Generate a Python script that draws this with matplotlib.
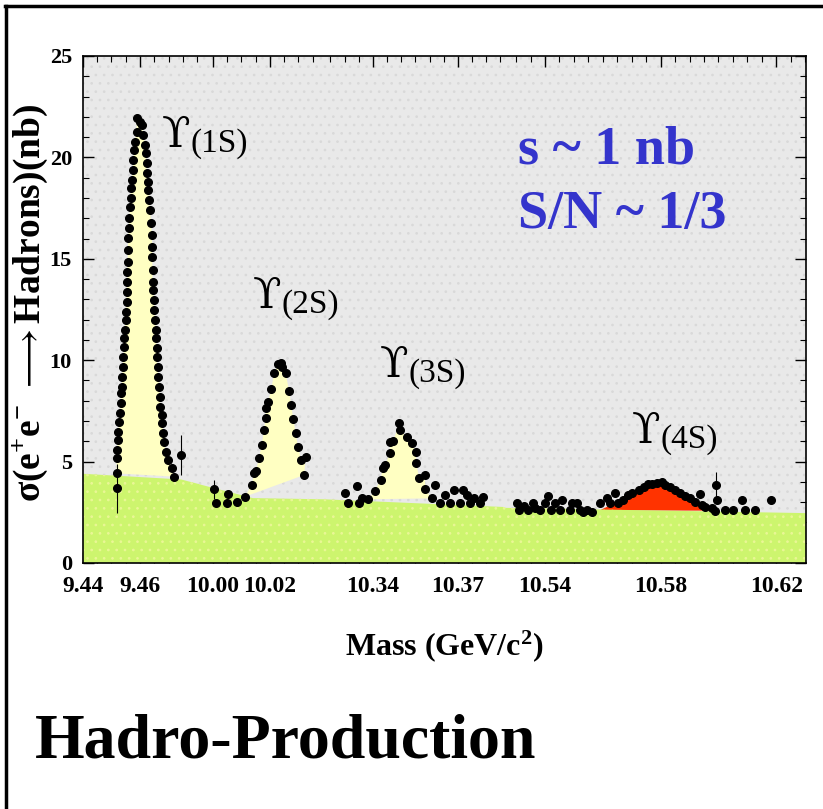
import numpy as np
import matplotlib
matplotlib.use("Agg")
import matplotlib.pyplot as plt
from matplotlib.lines import Line2D
from matplotlib.patches import Rectangle
from matplotlib.ticker import MultipleLocator

plt.rcParams['font.family'] = ['Liberation Serif', 'DejaVu Serif', 'DejaVu Sans']
plt.rcParams['mathtext.fontset'] = 'custom'
plt.rcParams['mathtext.rm'] = 'Liberation Serif:bold'
plt.rcParams['mathtext.bf'] = 'Liberation Serif:bold'
plt.rcParams['mathtext.it'] = 'Liberation Serif:italic:bold'
plt.rcParams['hatch.linewidth'] = 0.7

# ---------------- data (mass in GeV/c^2, cross-section in nb) ----------------
# Upsilon(1S) scan, ordered along the curve (rising edge then falling edge)
m_1s = [9.4518, 9.4518, 9.4520, 9.4522, 9.4524, 9.4527, 9.4530, 9.4533, 9.4533, 9.4536,
        9.4538, 9.4539, 9.4542, 9.4545, 9.4545, 9.4547, 9.4550, 9.4551, 9.4553, 9.4553,
        9.4556, 9.4556, 9.4557, 9.4557, 9.4559, 9.4561, 9.4563, 9.4565, 9.4567, 9.4568,
        9.4571, 9.4574, 9.4577, 9.4580, 9.4582, 9.4588, 9.4588,
        9.4600, 9.4606, 9.4612, 9.4618, 9.4620, 9.4623, 9.4623, 9.4627, 9.4629, 9.4632,
        9.4635, 9.4639, 9.4641, 9.4643, 9.4643, 9.4644, 9.4644, 9.4647, 9.4649, 9.4650,
        9.4653, 9.4655, 9.4656, 9.4658, 9.4658, 9.4662, 9.4664, 9.4667, 9.4670, 9.4671,
        9.4676, 9.4678, 9.4682, 9.4685, 9.4690, 9.4697, 9.4711, 9.4719]
s_1s = [4.42, 5.16, 5.57, 6.07, 6.48, 6.97, 7.38, 7.87, 8.37, 8.69,
        9.19, 9.68, 10.17, 10.67, 11.08, 11.49, 11.98, 12.39, 12.89, 13.38,
        13.87, 14.37, 14.86, 15.43, 16.01, 16.50, 17.00, 17.57, 17.98, 18.47,
        18.89, 19.38, 19.87, 20.36, 20.78, 21.27, 21.93,
        21.76, 21.60, 21.10, 20.61, 20.20, 19.71, 19.21, 18.80, 18.39, 17.90,
        17.41, 16.75, 16.17, 15.60, 15.10, 14.45, 13.87, 13.46, 12.97, 12.48,
        11.98, 11.49, 11.08, 10.59, 10.17, 9.68, 9.19, 8.69, 8.20, 7.71,
        7.30, 6.89, 6.39, 5.98, 5.49, 5.08, 4.67, 4.26]

# Upsilon(2S) scan
m_2s = [10.0011, 10.0048, 10.0054, 10.0083, 10.0112, 10.0136, 10.0145, 10.0151, 10.0161, 10.0171,
        10.0179, 10.0185, 10.0185, 10.0194, 10.0204, 10.0215, 10.0229, 10.0239, 10.0243, 10.0255,
        10.0267, 10.0274, 10.0282, 10.0290, 10.0299, 10.0309, 10.0325, 10.0320]
s_2s = [2.94, 2.94, 3.40, 2.99, 3.27, 3.85, 4.42, 4.54, 5.16, 5.82,
        6.56, 7.17, 7.63, 7.96, 8.56, 9.35, 9.81, 9.88, 9.68, 9.35,
        8.50, 7.79, 7.08, 6.39, 5.70, 5.08, 5.24, 4.34]

# Upsilon(3S) scan
m_3s = [10.3301, 10.3313, 10.3342, 10.3352, 10.3360, 10.3384, 10.3407, 10.3427, 10.3434, 10.3442,
        10.3460, 10.3460, 10.3472, 10.3493, 10.3495, 10.3521, 10.3537, 10.3552, 10.3552, 10.3564,
        10.3584, 10.3584, 10.3607, 10.3619, 10.3637, 10.3654, 10.3672, 10.3686, 10.3707, 10.3719,
        10.3731, 10.3742, 10.3757, 10.3778, 10.3789]
s_3s = [3.44, 2.94, 3.80, 2.97, 3.19, 3.14, 3.57, 4.09, 4.67, 4.83,
        5.41, 5.98, 6.03, 6.89, 6.56, 6.20, 5.90, 5.49, 4.91, 4.17,
        4.34, 3.63, 3.19, 3.85, 2.94, 3.35, 2.94, 3.60, 2.94, 3.60,
        3.35, 2.94, 3.19, 2.94, 3.27]

# Upsilon(4S) scan
m_4s = [10.5302, 10.5311, 10.5327, 10.5342, 10.5357, 10.5365, 10.5383, 10.5400, 10.5412, 10.5420,
        10.5435, 10.5452, 10.5458, 10.5487, 10.5492, 10.5510, 10.5521, 10.5530, 10.5546, 10.5561,
        10.5590, 10.5613, 10.5625, 10.5642, 10.5654, 10.5671, 10.5688, 10.5700, 10.5726, 10.5743,
        10.5758, 10.5769, 10.5786, 10.5804, 10.5815, 10.5833, 10.5850, 10.5867, 10.5884, 10.5902,
        10.5919, 10.5936, 10.5942, 10.5954, 10.5977, 10.5988, 10.5996, 10.6023, 10.6052, 10.6081,
        10.6092, 10.6127, 10.6181]
s_4s = [2.97, 2.61, 2.81, 2.61, 2.97, 2.70, 2.61, 2.94, 3.30, 2.61,
        2.97, 2.61, 3.11, 2.61, 2.94, 2.97, 2.61, 2.53, 2.61, 2.53,
        2.97, 3.19, 2.94, 3.44, 2.94, 3.11, 3.35, 3.44, 3.60, 3.76,
        3.90, 3.90, 3.96, 4.01, 3.85, 3.73, 3.60, 3.44, 3.30, 3.19,
        3.02, 3.40, 2.86, 2.78, 2.70, 2.58, 3.11, 2.61, 2.61, 3.11,
        2.61, 2.61, 3.11]

# points drawn with visible error bars
eb_m = [9.4518, 9.4744, 10.0005, 10.5992]
eb_s = [3.68, 5.33, 3.63, 3.85]
eb_e = [1.20, 1.00, 0.45, 0.65]

# 4S resonance fit (red area)
fit4s_m = [10.5590, 10.5648, 10.5706, 10.5752, 10.5798, 10.5844, 10.5890, 10.5936, 10.5983]
fit4s_s = [2.60, 3.00, 3.50, 3.76, 3.85, 3.68, 3.27, 2.86, 2.58]

# continuum background (green area)
bg_m = [9.44, 9.4744, 9.481, 9.9955, 10.0140, 10.0393, 10.3231, 10.3866, 10.5262, 10.6303]
bg_s = [4.40, 4.12, 3.88, 3.87, 3.20, 3.14, 3.14, 2.76, 2.72, 2.46]

tick_m = [9.44, 9.46, 10.00, 10.02, 10.34, 10.37, 10.54, 10.58, 10.62]
tick_lbl = ['9.44', '9.46', '10.00', '10.02', '10.34', '10.37', '10.54', '10.58', '10.62']

peak_lbl = ['(1S)', '(2S)', '(3S)', '(4S)']
peak_lbl_m = [9.4677, 10.0140, 10.3425, 10.5701]
peak_lbl_s = [20.5, 12.57, 9.17, 5.92]

# ---------------- broken mass axis ----------------
seg_mass = np.array([8.0, 9.44, 9.481, 9.9955, 10.0393, 10.3231, 10.3866, 10.5262, 10.6303, 12.0])
seg_pos = np.array([-4021.0, 83.0, 199.85, 200.17, 325.0, 325.1, 505.0, 505.1, 806.0, 4765.0])


def fwd(m):
    return np.interp(np.asarray(m, dtype=float), seg_mass, seg_pos)


def inv(p):
    return np.interp(np.asarray(p, dtype=float), seg_pos, seg_mass)


W, H = 823, 809
fig = plt.figure(figsize=(W / 100, H / 100), dpi=100)
fig.patch.set_facecolor('white')
ax = fig.add_axes([83 / W, 1 - 563 / H, 723 / W, 507 / H])
ax.set_xscale('function', functions=(fwd, inv))
ax.set_xlim(9.44, 10.6303)
ax.set_ylim(0, 25)

ax.set_facecolor('#e9e9e9')
ax.add_patch(Rectangle((0, 0), 1, 1, transform=ax.transAxes, facecolor='none',
                       edgecolor='#d9d9d9', hatch='..', lw=0, zorder=0.5))

yellow = '#ffffc2'
ax.fill(m_1s, s_1s, color=yellow, lw=0, zorder=1)
m2 = np.array(m_2s); s2 = np.array(s_2s)
sel2 = m2 >= 10.0110
ax.fill(m2[sel2], s2[sel2], color=yellow, lw=0, zorder=1)
m3 = np.array(m_3s); s3 = np.array(s_3s)
sel3 = (m3 >= 10.3384) & (m3 <= 10.3607)
ax.fill(m3[sel3], s3[sel3], color=yellow, lw=0, zorder=1)
ax.fill(fit4s_m, fit4s_s, color='#ff3300', lw=0, zorder=1)

ax.fill_between(bg_m, 0, bg_s, facecolor='#cdf56e', edgecolor='#eaf796',
                hatch='..', lw=0, zorder=2)

for mm, ss in [(m_1s, s_1s), (m_2s, s_2s), (m_3s, s_3s), (m_4s, s_4s)]:
    ax.plot(mm, ss, 'o', color='black', ms=5.5, zorder=4)
ax.errorbar(eb_m, eb_s, yerr=eb_e, fmt='o', color='black', ms=5.5,
            elinewidth=0.8, capsize=0, zorder=4)

# ticks
minor = []
for a, b in [(9.44, 9.48), (10.00, 10.035), (10.325, 10.385), (10.53, 10.63)]:
    minor += list(np.round(np.arange(a, b + 1e-6, 0.005), 4))
ax.set_xticks(tick_m)
ax.set_xticklabels(tick_lbl)
ax.set_xticks(minor, minor=True)
ax.set_yticks([0, 5, 10, 15, 20, 25])
ax.yaxis.set_minor_locator(MultipleLocator(1))
ax.tick_params(axis='both', which='both', direction='in', top=True, right=True)
ax.tick_params(which='major', length=8, width=1)
ax.tick_params(which='minor', length=4, width=0.8)
ax.tick_params(axis='x', which='major', pad=9, labelsize=17)
ax.tick_params(axis='y', which='major', pad=8, labelsize=16)
for lbl in ax.get_xticklabels() + ax.get_yticklabels():
    lbl.set_fontweight('bold')
for sp in ax.spines.values():
    sp.set_linewidth(1.2)
    sp.set_zorder(6)

ax.set_xlabel(r'Mass (GeV/c$^{2}$)', fontsize=23, fontweight='bold')
ax.xaxis.set_label_coords(0.5, -(628 - 563) / 507)
ax.set_ylabel(r'$\mathrm{\sigma(e^{+}e^{-}}\ \longrightarrow$Hadrons)(nb)',
              fontsize=27, fontweight='bold')
ax.yaxis.set_label_coords((50 - 83) / 723, 0.513)

# peak labels: upsilon glyph followed by the state name
for lab, lm, ls in zip(peak_lbl, peak_lbl_m, peak_lbl_s):
    t = ax.text(lm, ls, '\u03d2', fontsize=30, va='baseline', ha='left', zorder=5,
                family=['DejaVu Serif'])
    ax.annotate(lab, xy=(1, 0), xycoords=t, xytext=(0, -2), textcoords='offset points',
                fontsize=24, va='bottom', ha='left', zorder=5)

# annotations
fig.text(518 / W, 1 - 163 / H, 's ~ 1 nb', fontsize=39, fontweight='bold',
         color='#3434cc', va='baseline')
fig.text(518 / W, 1 - 228 / H, 'S/N ~ 1/3', fontsize=39, fontweight='bold',
         color='#3434cc', va='baseline')
fig.text(35 / W, 1 - 757 / H, 'Hadro-Production', fontsize=46, fontweight='bold',
         va='baseline')

# slide frame (left and top edges)
fig.add_artist(Line2D([6 / W, 6 / W], [0, 1 - 6 / H], color='black', lw=2.5,
                      transform=fig.transFigure))
fig.add_artist(Line2D([6 / W - 0.001, 1], [1 - 6 / H, 1 - 6 / H], color='black', lw=2.5,
                      transform=fig.transFigure))

fig.savefig('out.png', dpi=100)
